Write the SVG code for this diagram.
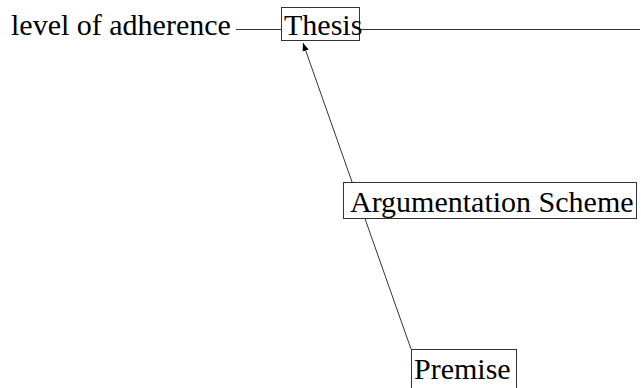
<svg xmlns="http://www.w3.org/2000/svg" width="641" height="388" viewBox="0 0 641 388">
<style>
.t{font-family:'Liberation Serif','Times New Roman',Times,serif;font-size:30px;fill:#000}
.box{fill:#fff;stroke:#333;stroke-width:1}
.ln{stroke:#333;stroke-width:1;fill:none}
</style>
<defs>
<marker id="ah" viewBox="0 0 10 10" refX="10" refY="5" markerWidth="8" markerHeight="8" markerUnits="userSpaceOnUse" orient="auto">
<path d="M0,1 L10,5 L0,9 z" fill="#000"/>
</marker>
</defs>
<g id="connectors">
<line class="ln" x1="236" y1="29.5" x2="281" y2="29.5"/>
<line class="ln" x1="360" y1="29.5" x2="640" y2="29.5"/>
<line class="ln" x1="411" y1="349" x2="303" y2="43" marker-end="url(#ah)"/>
</g>
<g id="level">
<text class="t" x="11" y="35">level of adherence</text>
</g>
<g id="thesis">
<rect class="box" x="281.5" y="7.5" width="78" height="33"/>
<text class="t" x="284" y="35">Thesis</text>
</g>
<g id="scheme">
<rect class="box" x="343.5" y="182.5" width="293" height="36"/>
<text class="t" x="350" y="212">Argumentation Scheme</text>
</g>
<g id="premise">
<rect class="box" x="411.5" y="349.5" width="105" height="45"/>
<text class="t" x="414" y="379">Premise</text>
</g>
</svg>
